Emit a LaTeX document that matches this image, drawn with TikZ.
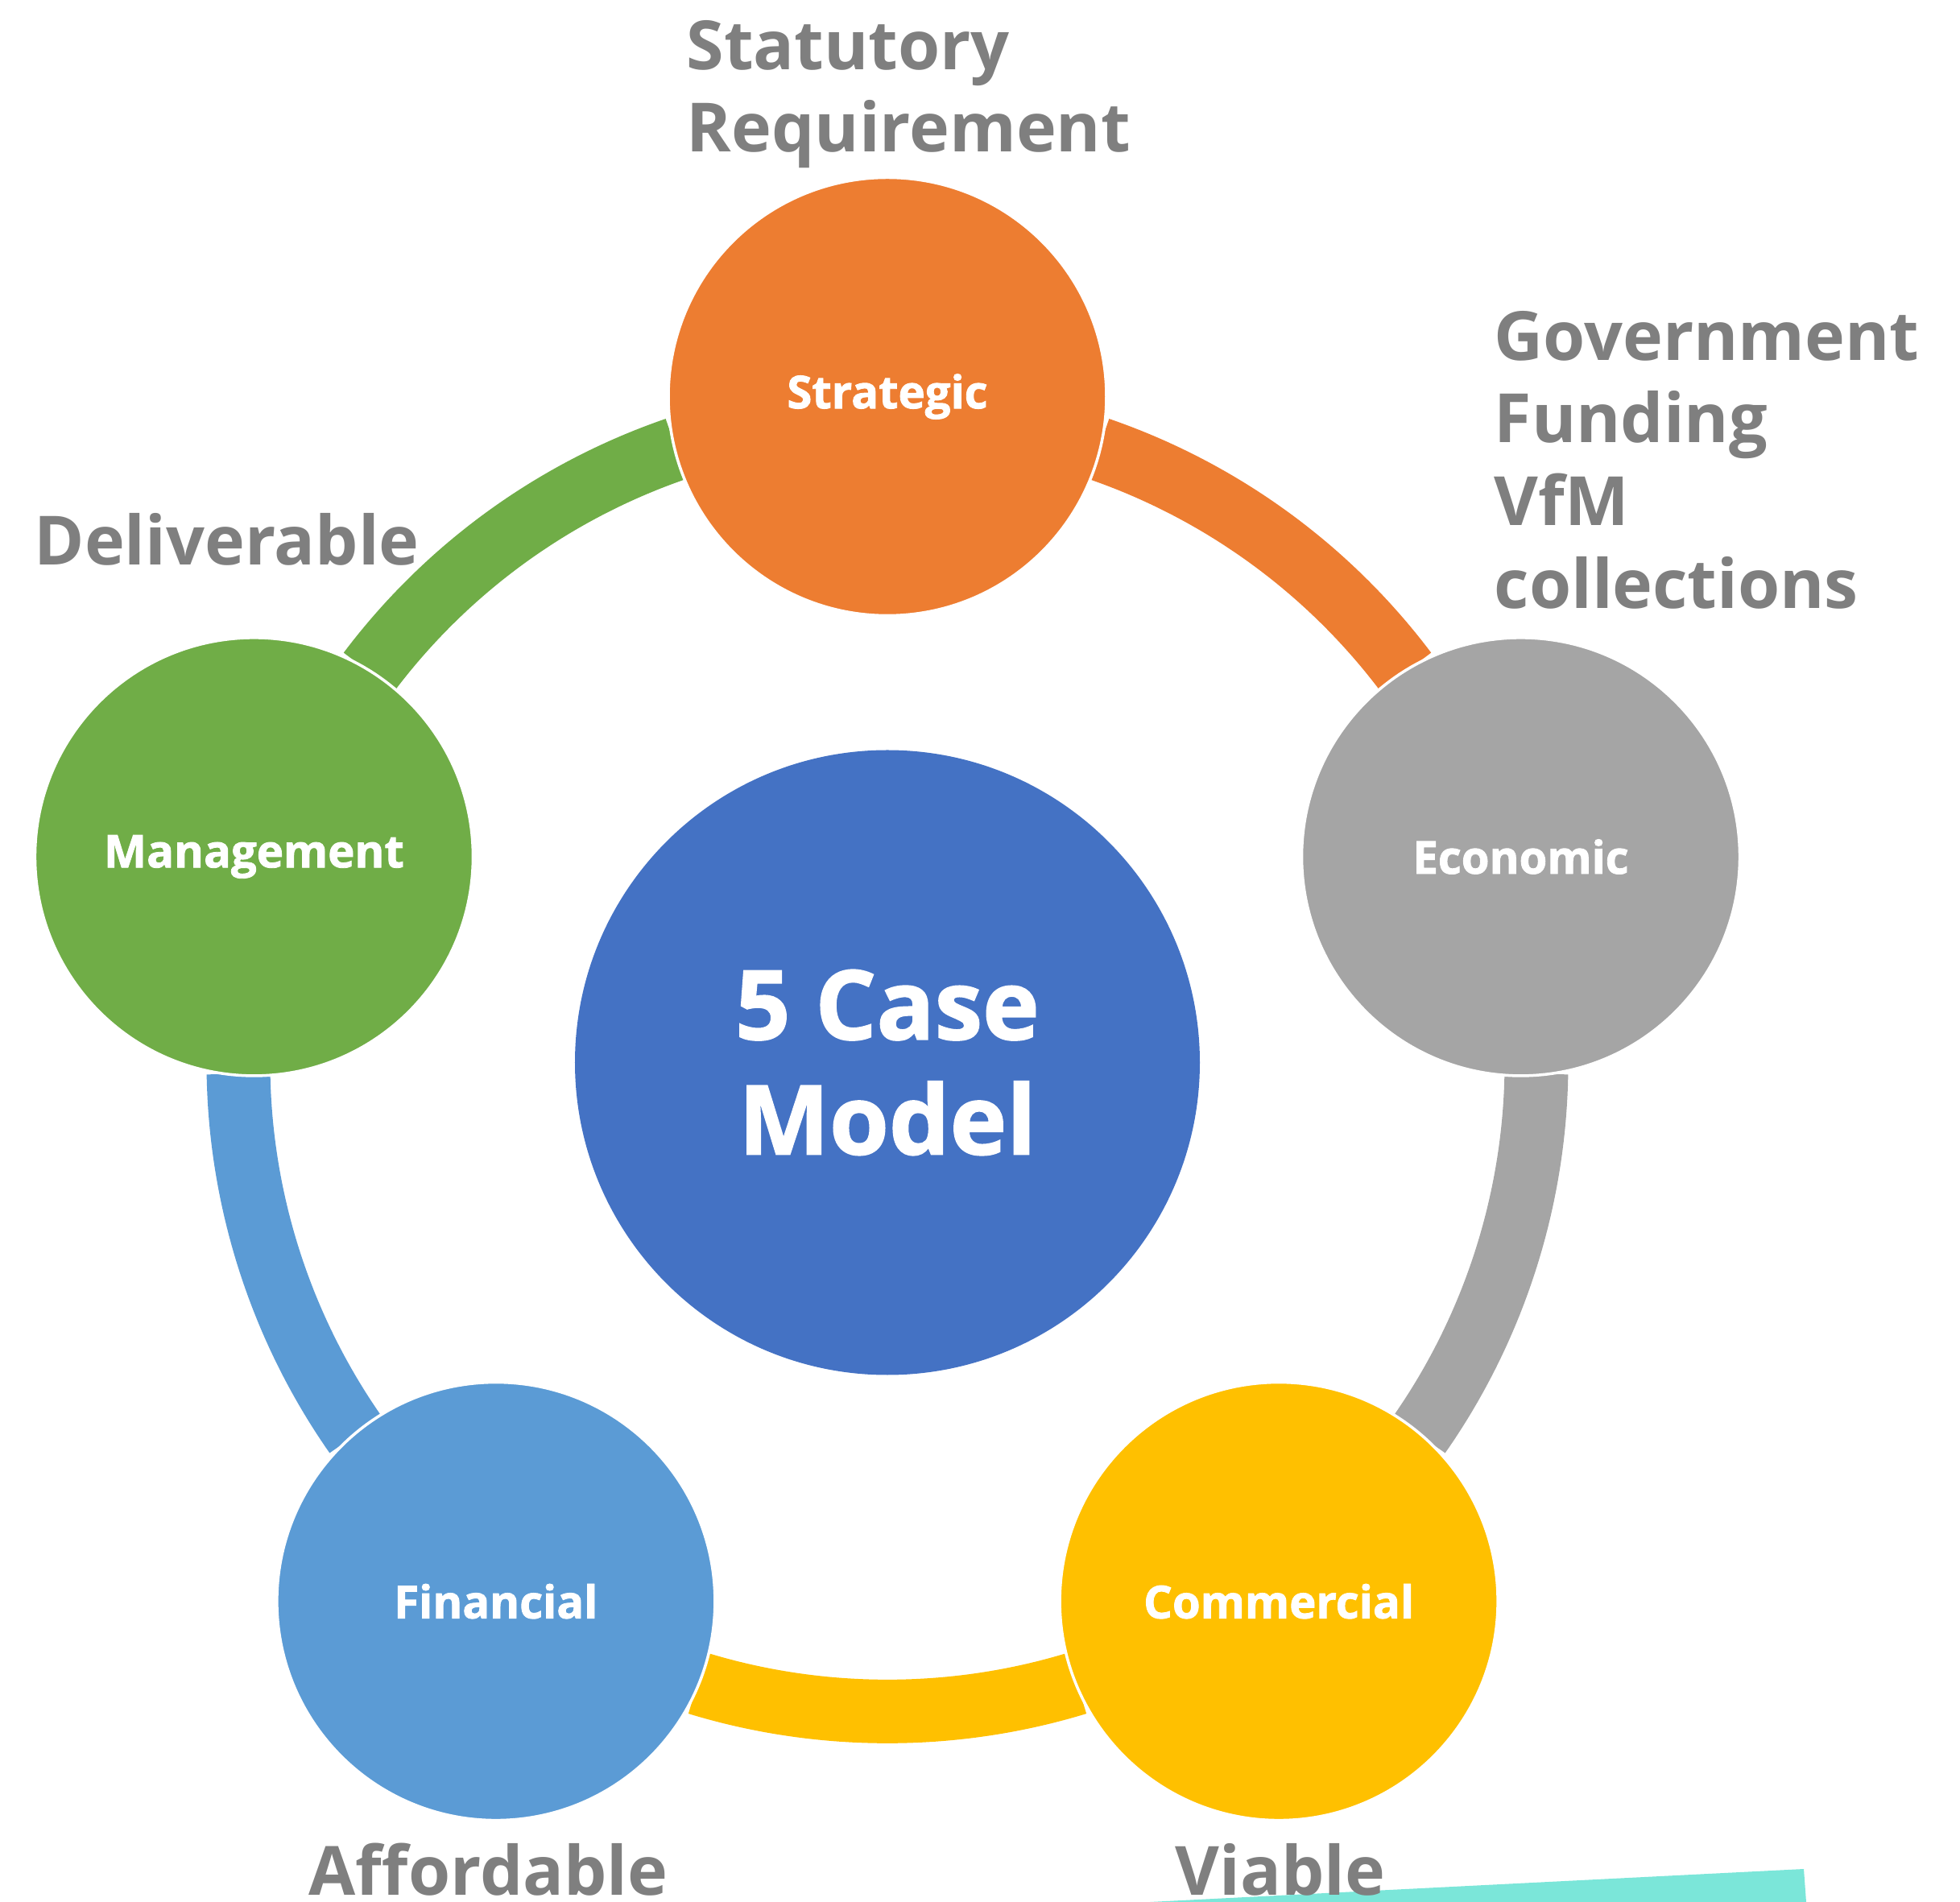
\documentclass[tikz,border=0pt]{standalone}
\usepackage{fontspec}
\setmainfont{Open Sans}
\usetikzlibrary{positioning}
\definecolor{hubblue}{HTML}{4472C4}
\definecolor{stratorange}{HTML}{ED7D31}
\definecolor{econgray}{HTML}{A5A5A5}
\definecolor{commyellow}{HTML}{FFC000}
\definecolor{finblue}{HTML}{5B9BD5}
\definecolor{mgmtgreen}{HTML}{70AD47}
\definecolor{notegray}{HTML}{7F7F7F}
\definecolor{tealshade}{HTML}{7BE6D9}
\tikzstyle{stage} = [circle, draw=white, line width=1pt, minimum size=5.44cm, inner sep=0pt, text=white, font=\fontsize{16}{19}\selectfont\bfseries\addfontfeatures{FakeBold=1.5}]
\tikzstyle{hub} = [circle, fill=hubblue, minimum size=7.76cm, inner sep=0pt, text=white, align=center, font=\fontsize{34}{40.6}\selectfont\bfseries\addfontfeatures{FakeBold=1.5}]
\tikzstyle{note} = [text=notegray, inner sep=0pt, align=left, font=\fontsize{24}{29.2}\selectfont\bfseries]
\tikzstyle{link} = [line width=0.79cm, line cap=butt]

\begin{document}
\begin{tikzpicture}
    \useasboundingbox (-11.02,-10.425) rectangle (13.32,13.195);
    \fill[tealshade] (3.26,-10.425) -- (11.38,-10.015) -- (11.41,-10.425) -- cycle;

    % ends of the ring pieces
    \coordinate (strat-r) at (71:8.06);
    \coordinate (econ-l) at (37:8.06);
    \coordinate (econ-r) at (-1:8.06);
    \coordinate (comm-l) at (-35:8.06);
    \coordinate (comm-r) at (-73:8.06);
    \coordinate (fin-l) at (-107:8.06);
    \coordinate (fin-r) at (-145:8.06);
    \coordinate (mgmt-l) at (-179:8.06);
    \coordinate (mgmt-r) at (143:8.06);
    \coordinate (strat-l) at (109:8.06);

    \draw[link, stratorange] (strat-r) to[bend left=17, looseness=0.87] (econ-l);
    \draw[link, econgray] (econ-r) to[bend left=17, looseness=0.87] (comm-l);
    \draw[link, commyellow] (comm-r) to[bend left=17, looseness=0.87] (fin-l);
    \draw[link, finblue] (fin-r) to[bend left=17, looseness=0.87] (mgmt-l);
    \draw[link, mgmtgreen] (mgmt-r) to[bend left=17, looseness=0.87] (strat-l);

    \node[hub] (hub) at (0,0) {5 Case\\Model};
    \node[stage, fill=stratorange] (strat) at (90:8.27) {Strategic};
    \node[stage, fill=econgray] (econ) at (18:8.27) {Economic};
    \node[stage, fill=commyellow] (comm) at (-54:8.27) {Commercial};
    \node[stage, fill=finblue] (fin) at (-126:8.27) {Financial};
    \node[stage, fill=mgmtgreen] (mgmt) at (162:8.27) {Management};

    \node[note, anchor=north west] (statnote) at (-2.50,12.95) {Statutory\\Requirement};
    \node[note, anchor=north west] (econnote) at (7.53,9.34) {Government\\Funding\\VfM\\collections};
    \node[note, anchor=base west] (mgmtnote) at (-10.60,6.175) {Deliverable};
    \node[note, anchor=base west] (finnote) at (-7.19,-10.34) {Affordable};
    \node[note, anchor=base west] (commnote) at (3.57,-10.34) {Viable};
\end{tikzpicture}
\end{document}
